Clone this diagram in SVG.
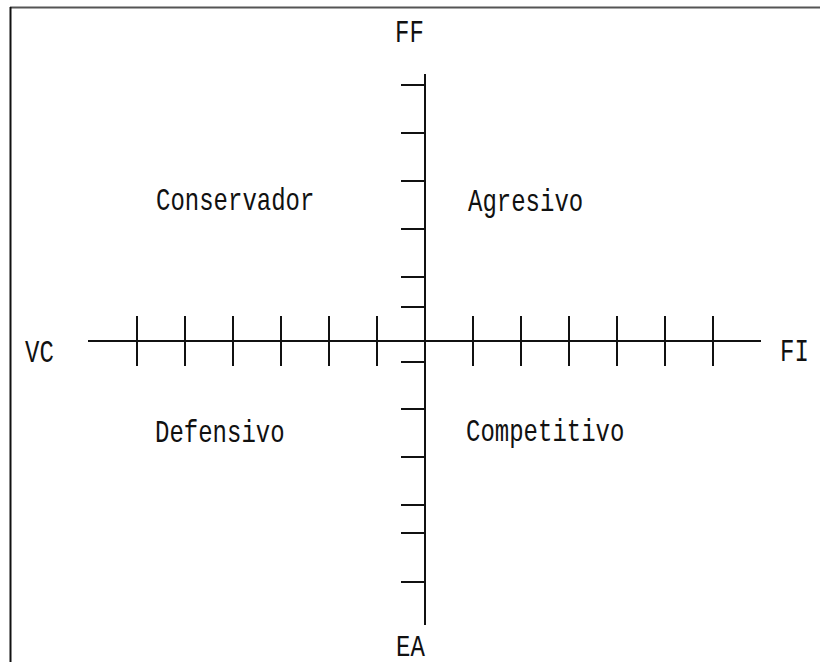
<svg xmlns="http://www.w3.org/2000/svg" width="820" height="662" viewBox="0 0 820 662">
<style>
.ax{stroke:#111;stroke-width:2;fill:none}
.t{font-family:"Liberation Mono","Courier New",monospace;font-size:24px;fill:#111}
</style>
<rect width="820" height="662" fill="#fff"/>
<g id="frame">
<line x1="10" y1="7.5" x2="820" y2="7.5" stroke="#555" stroke-width="2"/>
<line x1="10.5" y1="7" x2="10.5" y2="662" stroke="#111" stroke-width="2"/>
</g>
<g id="connectors">
<line class="ax" x1="425" y1="74" x2="425" y2="625"/>
<line class="ax" x1="88" y1="341" x2="761" y2="341"/>
<path class="ax" d="M401 85H425M401 133H425M401 181H425M401 229H425M401 277H425M401 307H425M401 362H425M401 409H425M401 457H425M401 505H425M401 533H425M401 582H425"/>
<path class="ax" d="M137 316V366M185 316V366M233 316V366M281 316V366M329 316V366M377 316V366M473 316V366M521 316V366M569 316V366M617 316V366M665 316V366M713 316V366"/>
</g>
<g id="FF"><text class="t" transform="translate(395,42) scale(1,1.3)">FF</text></g>
<g id="VC"><text class="t" transform="translate(25,362) scale(1,1.3)">VC</text></g>
<g id="FI"><text class="t" transform="translate(780,361) scale(1,1.3)">FI</text></g>
<g id="EA"><text class="t" transform="translate(396,656) scale(1,1.25)">EA</text></g>
<g id="Conservador"><text class="t" transform="translate(156,210) scale(1,1.3)">Conservador</text></g>
<g id="Agresivo"><text class="t" transform="translate(468,211) scale(1,1.3)">Agresivo</text></g>
<g id="Defensivo"><text class="t" transform="translate(155,442) scale(1,1.3)">Defensivo</text></g>
<g id="Competitivo"><text class="t" transform="translate(466,441) scale(1,1.3)">Competitivo</text></g>
</svg>
